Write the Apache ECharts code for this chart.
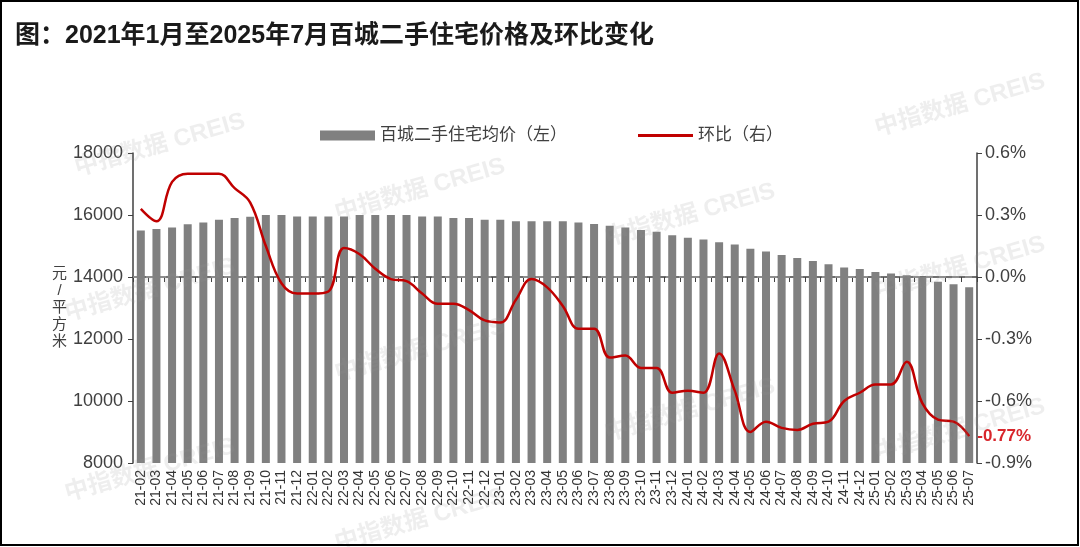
<!DOCTYPE html>
<html>
<head>
<meta charset="utf-8">
<script src="https://cdn.jsdelivr.net/npm/echarts@6/dist/echarts.min.js"></script>
<style>
html,body{margin:0;padding:0;background:#fff;}
#chart{width:1080px;height:547px;}
</style>
</head>
<body>
<div id="chart"></div>
<script>
const categories = ["21-02","21-03","21-04","21-05","21-06","21-07","21-08","21-09","21-10","21-11","21-12",
"22-01","22-02","22-03","22-04","22-05","22-06","22-07","22-08","22-09","22-10","22-11","22-12",
"23-01","23-02","23-03","23-04","23-05","23-06","23-07","23-08","23-09","23-10","23-11","23-12",
"24-01","24-02","24-03","24-04","24-05","24-06","24-07","24-08","24-09","24-10","24-11","24-12",
"25-01","25-02","25-03","25-04","25-05","25-06","25-07"];
const avgPrice = [15500,15550,15600,15700,15760,15850,15900,15940,16000,16000,15950,
15950,15950,15950,16000,16000,16000,16000,15950,15950,15900,15900,15850,
15850,15800,15800,15800,15800,15760,15710,15650,15600,15520,15460,15350,
15270,15210,15120,15050,14910,14820,14710,14610,14520,14410,14310,14260,
14160,14110,14060,13990,13850,13770,13670];
const momChange = [0.33,0.27,0.46,0.50,0.50,0.50,0.43,0.36,0.15,-0.03,-0.08,
-0.08,-0.07,0.14,0.11,0.04,-0.01,-0.02,-0.08,-0.13,-0.13,-0.16,-0.21,
-0.22,-0.11,-0.01,-0.05,-0.14,-0.25,-0.25,-0.39,-0.38,-0.44,-0.44,-0.56,
-0.55,-0.56,-0.37,-0.55,-0.75,-0.70,-0.73,-0.74,-0.71,-0.70,-0.60,-0.56,
-0.52,-0.52,-0.41,-0.61,-0.69,-0.70,-0.77];
const leftTicks = {min: 8000, max: 18000, interval: 2000};
const rightTicks = {min: -0.9, max: 0.6, interval: 0.3};
const seriesNames = ["百城二手住宅均价（左）", "环比（右）"];
const titleText = "图：2021年1月至2025年7月百城二手住宅价格及环比变化";
const watermarkText = "中指数据 CREIS";

const FONT = '"Liberation Sans", Arial, "Noto Sans CJK SC", sans-serif';
const wmPos = [[160,145],[420,190],[690,215],[960,105],[960,268],[150,290],[420,350],[690,410],[960,430],[150,470],[420,520]];
const watermarks = wmPos.map(p => ({
  type: 'text', x: p[0], y: p[1], rotation: 16 * Math.PI / 180, z: 100, silent: true,
  style: {text: watermarkText, fill: 'rgba(150,150,150,0.16)', font: 'bold 24px ' + FONT, align: 'center', verticalAlign: 'middle'}
}));

const lastIdx = momChange.length - 1;
const lineData = momChange.map((v, i) => i === lastIdx ? {
  value: v,
  label: {show: true, position: 'right', distance: 8, formatter: p => p.value.toFixed(2) + '%',
          color: '#d8262c', fontSize: 17, fontWeight: 'bold', fontFamily: FONT}
} : v);

const chart = echarts.init(document.getElementById('chart'));
chart.setOption({
  animation: false,
  backgroundColor: '#fff',
  title: {
    text: titleText, left: 10, top: 19,
    textStyle: {fontSize: 25, fontWeight: 'bold', color: '#1a1a1a', fontFamily: FONT}
  },
  legend: [{
    left: 315, top: 122, itemWidth: 55, itemHeight: 10,
    textStyle: {fontSize: 17, color: '#404040', fontFamily: FONT},
    data: [{name: seriesNames[0], icon: 'rect'}]
  }, {
    left: 633, top: 122, itemWidth: 55, itemHeight: 3,
    textStyle: {fontSize: 17, color: '#404040', fontFamily: FONT},
    data: [{name: seriesNames[1], icon: 'rect'}]
  }],
  grid: {left: 133, right: 103, top: 153, bottom: 84},
  xAxis: {
    type: 'category', data: categories,
    axisLine: {lineStyle: {color: '#404040', width: 1.5}},
    axisTick: {show: true, alignWithLabel: false, length: 5, lineStyle: {color: '#404040'}},
    axisLabel: {rotate: 90, interval: 0, fontSize: 14, color: '#333', margin: 7, fontFamily: FONT}
  },
  yAxis: [{
    type: 'value', min: leftTicks.min, max: leftTicks.max, interval: leftTicks.interval,
    name: '元\n/\n平\n方\n米', nameLocation: 'middle', nameRotate: 0, nameGap: 70,
    nameTextStyle: {fontSize: 15, color: '#404040', align: 'center', lineHeight: 17, fontFamily: FONT},
    axisLine: {show: true, lineStyle: {color: '#404040', width: 1.5}},
    axisTick: {show: true, length: 5, lineStyle: {color: '#404040'}},
    axisLabel: {fontSize: 18, color: '#404040', margin: 10, fontFamily: FONT, formatter: v => String(v)},
    splitLine: {show: false}
  }, {
    type: 'value', min: rightTicks.min, max: rightTicks.max, interval: rightTicks.interval,
    axisLine: {show: true, lineStyle: {color: '#404040', width: 1.5}},
    axisTick: {show: true, length: 5, lineStyle: {color: '#404040'}},
    axisLabel: {fontSize: 18, color: '#404040', margin: 8, fontFamily: FONT,
      formatter: v => (Math.abs(v) < 1e-9 ? 0 : v).toFixed(1) + '%'},
    splitLine: {show: false}
  }],
  series: [{
    name: seriesNames[0], type: 'bar', data: avgPrice, yAxisIndex: 0,
    barWidth: 8, itemStyle: {color: '#808080'}
  }, {
    name: seriesNames[1], type: 'line', data: lineData, yAxisIndex: 1,
    smooth: 0.4, symbol: 'circle', symbolSize: 0.1, showSymbol: true, showAllSymbol: true,
    lineStyle: {color: '#c00000', width: 2.5}, itemStyle: {color: '#c00000'},
    markLine: {
      silent: true, symbol: 'none', label: {show: false},
      lineStyle: {color: '#999', type: [7, 6], width: 1.5},
      data: [{yAxis: 0}], z: 1
    }
  }],
  graphic: watermarks.concat([{
    type: 'rect', z: 200, silent: true,
    shape: {x: 1, y: 1, width: 1077, height: 544},
    style: {fill: 'none', stroke: '#000', lineWidth: 2}
  }])
});
</script>
</body>
</html>
